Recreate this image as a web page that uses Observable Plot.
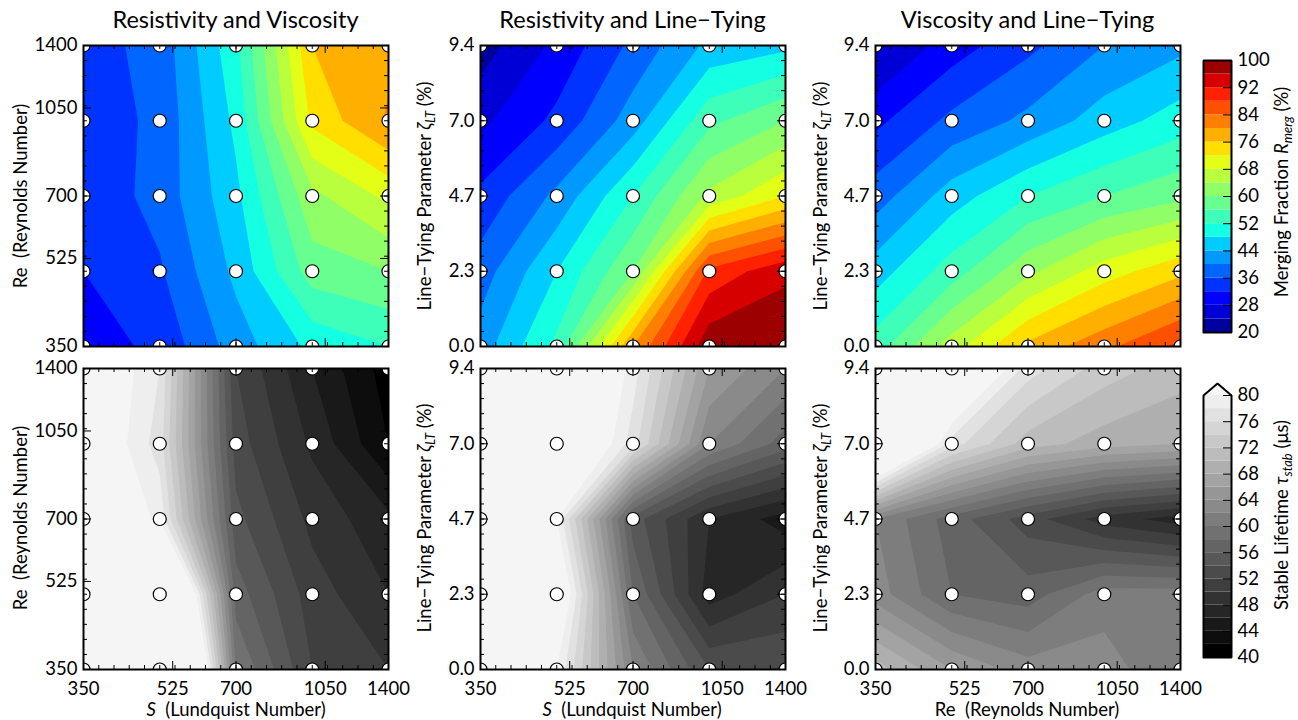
<!DOCTYPE html>
<html><head><meta charset="utf-8">
<script src="https://cdn.jsdelivr.net/npm/d3@7"></script>
<script src="https://cdn.jsdelivr.net/npm/@observablehq/plot@0.6"></script>
<style>
body{margin:0;background:#fff;font-family:Lato,"DejaVu Sans",sans-serif;color:#000;}
#fig{position:relative;width:1298px;height:720px;overflow:hidden;background:#fff;}
.t{position:absolute;white-space:pre;line-height:1;}
.title{font-size:23.5px;text-align:center;width:305px;top:8px;}
.lab{font-size:18.5px;transform:translate(-50%,-50%);}
.rot{transform:translate(-50%,-50%) rotate(-90deg);}
sub{font-size:70%;vertical-align:-0.3em;line-height:0;}
</style>
</head><body><div id="fig"></div>
<script>
// ---------- data ----------
const sTickValues = [350, 525, 700, 1050, 1400];
const sTickLabels = ["350", "525", "700", "1050", "1400"];
const ltTickValues = [0, 2.35, 4.7, 7.05, 9.4];
const ltTickLabels = ["0.0", "2.3", "4.7", "7.0", "9.4"];
const gridS = [350, 495, 700, 990, 1400];   // Lundquist number samples
const gridRe = [350, 495, 700, 990, 1400];  // Reynolds number samples
const gridLT = [0, 2.35, 4.7, 7.05, 9.4];   // line-tying parameter samples (%)
const mergeLevels = [20,24,28,32,36,40,44,48,52,56,60,64,68,72,76,80,84,88,92,96,100];
const mergeTicks = [20,28,36,44,52,60,68,76,84,92,100];
const lifeLevels = [40,42,44,46,48,50,52,54,56,58,60,62,64,66,68,70,72,74,76,78,80];
const lifeTicks = [40,44,48,52,56,60,64,68,72,76,80];
// rows: highest y first (top row of panel) ... lowest y last; columns: left -> right
const mergeRV = [
  [34.2, 37.5, 51, 76, 79],
  [33.5, 37, 49, 73, 80.5],
  [33, 37.5, 47, 63, 69],
  [32, 35.5, 45, 58, 60],
  [30, 33, 42, 49, 52]];
const mergeRL = [
  [22, 29, 37, 45, 47],
  [27, 33, 42, 55, 60],
  [33, 41, 52, 65, 72],
  [38, 48, 60, 89, 95],
  [42, 53, 80, 99, 99.8]];
const mergeVL = [
  [23, 30, 35, 40, 43],
  [31, 37, 41, 46, 50],
  [38, 46, 52, 56, 59],
  [46, 54, 63, 70, 75],
  [54, 66, 77, 83, 89]];
const lifeRV = [
  [84, 78, 52, 46, 41],
  [84, 77, 53, 47.6, 42],
  [84, 79.5, 54.6, 49.4, 46.5],
  [85, 101, 57, 51, 48],
  [85, 115, 60, 52, 50]];
const lifeRL = [
  [88, 90, 79, 66, 62],
  [88, 88, 77, 62, 57],
  [86, 80, 55, 48, 45],
  [86, 85, 58, 47, 50],
  [86, 80, 62, 54, 54]];
const lifeVL = [
  [95, 88, 77, 73, 71],
  [95, 77, 71, 69, 68],
  [62, 57, 53, 49, 47],
  [63, 58, 57, 61, 61],
  [71, 66, 63, 63, 60]];

// ---------- colours ----------
function seg(pts, t){for(let k=1;k<pts.length;k++){if(t<=pts[k][0]){const [a,b]=pts[k-1],[c,d]=pts[k];return b+(d-b)*(t-a)/(c-a);}}return pts[pts.length-1][1];}
const jR=[[0,0],[0.35,0],[0.66,1],[0.89,1],[1,0.5]], jG=[[0,0],[0.125,0],[0.375,1],[0.64,1],[0.91,0],[1,0]], jB=[[0,0.5],[0.11,1],[0.34,1],[0.65,0],[1,0]];
const jet = t => d3.rgb(255*seg(jR,t),255*seg(jG,t),255*seg(jB,t)).formatHex();
const nM = mergeLevels.length-1;
const mergeColors = d3.range(nM).map(i => jet((i+0.5)/nM));
const mergeColor = {type:"threshold", domain: mergeLevels.slice(1,-1), range: mergeColors};
const nL = lifeLevels.length-1;
const lifeColors = d3.range(nL).map(i => {const g=Math.round(i*12.5);return d3.rgb(g,g,g).formatHex();});
const overColor = "#f5f5f5";
const lifeColor = {type:"threshold", domain: lifeLevels.slice(1), range: [...lifeColors, overColor]};

// ---------- helpers ----------
const fig = document.getElementById("fig");
const posLog = v => 2*Math.log2(v/350);
const posLT = v => v/2.35;
const W = 305, H = 301;

function place(el, left, top){el.style.position="absolute";el.style.left=left+"px";el.style.top=top+"px";fig.appendChild(el);}
function addText(html, cls, x, y){const d=document.createElement("div");d.className="t "+cls;d.innerHTML=html;d.style.left=x+"px";d.style.top=y+"px";fig.appendChild(d);return d;}

function panel(o){
  const ml=60, mr=12, mt=12, mb=32;
  const flat = o.values.slice().reverse().flat();
  const kx = 4/W, ky = 4/H;
  const minor = d3.range(0, 4.0001, 0.2);
  const majX = o.xTicks.map(o.xPos), majY = o.yTicks.map(o.yPos);
  const pts = [];
  for (const yv of o.yGrid) for (const xv of o.xGrid) pts.push({x:o.xPos(xv), y:o.yPos(yv)});
  const tk = (arr, len) => [
    Plot.ruleX(arr, {x:d=>d, y1:0, y2:len*ky, stroke:"black", strokeWidth:1}),
    Plot.ruleX(arr, {x:d=>d, y1:4, y2:4-len*ky, stroke:"black", strokeWidth:1})];
  const tky = (arr, len) => [
    Plot.ruleY(arr, {y:d=>d, x1:0, x2:len*kx, stroke:"black", strokeWidth:1}),
    Plot.ruleY(arr, {y:d=>d, x1:4, x2:4-len*kx, stroke:"black", strokeWidth:1})];
  const marks = [
    Plot.contour(flat, {width:5, height:5, x1:-0.5, x2:4.5, y1:-0.5, y2:4.5, fill:Plot.identity, thresholds:o.levels, clip:true}),
    Plot.dot(pts, {x:"x", y:"y", r:6.5, fill:"white", stroke:"black", strokeWidth:1.2, clip:true}),
    ...tk(minor, 4), ...tk(majX, 8), ...tky(minor, 4), ...tky(majY, 8),
    Plot.frame({stroke:"black", strokeWidth:2}),
    Plot.text(majY, {y:d=>d, text:(d,i)=>o.yLabels[i], frameAnchor:"left", textAnchor:"end", dx:-6, fontSize:18.5})
  ];
  if (o.showX) marks.push(Plot.text(majX, {x:d=>d, text:(d,i)=>o.xLabels[i], frameAnchor:"bottom", lineAnchor:"top", dy:12, fontSize:18.5}));
  const svg = Plot.plot({width:W+ml+mr, height:H+mt+mb, marginLeft:ml, marginRight:mr, marginTop:mt, marginBottom:mb,
    x:{domain:[0,4], axis:null}, y:{domain:[0,4], axis:null}, color:o.color,
    style:{fontFamily:"Lato, 'DejaVu Sans', sans-serif", fontSize:"18px", background:"transparent", overflow:"visible", maxWidth:"none", color:"black"},
    marks});
  place(svg, o.left-ml, o.top-mt);
}

function colorbar(o){
  const ml=2, mr=44, mt=4, mb=4, bw=28;
  const bands = o.levels.slice(0,-1).map((lo,i)=>({lo, hi:o.levels[i+1]}));
  const lo = o.levels[0], hi = o.levels[o.levels.length-1];
  const top = hi + o.ext;
  const kx = 1/bw;
  const marks = [
    Plot.rect(bands, {x1:0, x2:1, y1:"lo", y2:"hi", fill:"lo"})
  ];
  let outline = [{x:0,y:lo},{x:0,y:hi},{x:1,y:hi},{x:1,y:lo},{x:0,y:lo}];
  if (o.ext > 0) {
    const tri = [{x:0,y:hi},{x:0.5,y:top},{x:1,y:hi}];
    marks.push(Plot.areaY(tri, {x:"x", y1:hi, y2:"y", fill:o.over}));
    outline = [{x:0,y:lo},{x:0,y:hi},{x:0.5,y:top},{x:1,y:hi},{x:1,y:lo},{x:0,y:lo}];
  }
  marks.push(
    Plot.ruleY(o.ticks, {y:d=>d, x1:1, x2:1-8*kx, stroke:"black", strokeWidth:1}),
    Plot.line(outline, {x:"x", y:"y", stroke:"black", strokeWidth:2, strokeLinejoin:"miter"}),
    Plot.text(o.ticks, {y:d=>d, text:d=>String(d), frameAnchor:"right", textAnchor:"start", dx:6, fontSize:18.5})
  );
  const svg = Plot.plot({width:bw+ml+mr, height:o.h+mt+mb, marginLeft:ml, marginRight:mr, marginTop:mt, marginBottom:mb,
    x:{domain:[0,1], axis:null}, y:{domain:[lo, top], axis:null}, color:o.color,
    style:{fontFamily:"Lato, 'DejaVu Sans', sans-serif", fontSize:"18px", background:"transparent", overflow:"visible", maxWidth:"none", color:"black"},
    marks});
  place(svg, o.left-ml, o.top-mt);
}

// ---------- panels ----------
const lefts = [83, 480, 875], tops = [45, 368];
const logAxis = {ticks: sTickValues, labels: sTickLabels, pos: posLog};
const ltAxis = {ticks: ltTickValues, labels: ltTickLabels, pos: posLT};
const specs = [
  {values: mergeRV, xa: logAxis, ya: logAxis, xg: gridS, yg: gridRe, row:0, col:0, color: mergeColor, levels: mergeLevels.slice(0,-1)},
  {values: mergeRL, xa: logAxis, ya: ltAxis, xg: gridS, yg: gridLT, row:0, col:1, color: mergeColor, levels: mergeLevels.slice(0,-1)},
  {values: mergeVL, xa: logAxis, ya: ltAxis, xg: gridRe, yg: gridLT, row:0, col:2, color: mergeColor, levels: mergeLevels.slice(0,-1)},
  {values: lifeRV, xa: logAxis, ya: logAxis, xg: gridS, yg: gridRe, row:1, col:0, color: lifeColor, levels: lifeLevels},
  {values: lifeRL, xa: logAxis, ya: ltAxis, xg: gridS, yg: gridLT, row:1, col:1, color: lifeColor, levels: lifeLevels},
  {values: lifeVL, xa: logAxis, ya: ltAxis, xg: gridRe, yg: gridLT, row:1, col:2, color: lifeColor, levels: lifeLevels}
];
for (const s of specs) {
  panel({values:s.values, xGrid:s.xg, yGrid:s.yg, xPos:s.xa.pos, yPos:s.ya.pos,
    xTicks:s.xa.ticks, xLabels:s.xa.labels, yTicks:s.ya.ticks, yLabels:s.ya.labels,
    showX: s.row===1, levels:s.levels, color:s.color, left:lefts[s.col], top:tops[s.row]});
}

colorbar({levels: mergeLevels, ticks: mergeTicks, color: mergeColor, ext: 0, h: 272, left: 1203, top: 60});
colorbar({levels: lifeLevels, ticks: lifeTicks, color: lifeColor, ext: 40*12/262, over: overColor, h: 274, left: 1203, top: 383});

// ---------- text ----------
const titles = ["Resistivity and Viscosity", "Resistivity and Line\u2212Tying", "Viscosity and Line\u2212Tying"];
titles.forEach((t,i)=>{addText(t,"title",lefts[i],8);});
const reLab = "Re  (Reynolds Number)";
const sLab = "<i>S</i>  (Lundquist Number)";
const ltLab = "Line\u2212Tying Parameter <i>\u03B6</i><sub><i>LT</i></sub> (%)";
addText(reLab, "lab rot", 20, 196);
addText(reLab, "lab rot", 20, 518);
addText(ltLab, "lab rot", 424, 196);
addText(ltLab, "lab rot", 424, 518);
addText(ltLab, "lab rot", 820, 196);
addText(ltLab, "lab rot", 820, 518);
addText(sLab, "lab", 236, 709);
addText(sLab, "lab", 632, 709);
addText(reLab, "lab", 1027, 709);
addText("Merging Fraction <i>R</i><sub><i>merg</i></sub> (%)", "lab rot", 1281, 192);
addText("Stable Lifetime <i>\u03C4</i><sub><i>stab</i></sub> (\u03BCs)", "lab rot", 1281, 515);
</script></body></html>
